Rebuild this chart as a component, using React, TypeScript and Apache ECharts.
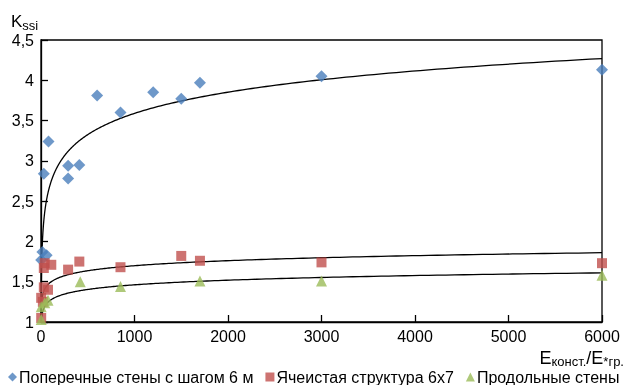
import React, { useEffect, useRef } from "react";
import * as echarts from "echarts";

const blueName = "Поперечные стены с шагом 6 м";
const redName = "Ячеистая структура 6х7";
const greenName = "Продольные стены";

const blueX = [2, 15, 60, 30, 80, 290, 290, 410, 600, 850, 1200, 1500, 1700, 3000, 6000];
const blueY = [1.77, 1.87, 1.83, 2.84, 3.24, 2.78, 2.94, 2.95, 3.81, 3.6, 3.85, 3.77, 3.97, 4.05, 4.13];

const redX = [2, 40, 110, 30, 290, 410, 30, 75, 2, 20, 850, 1500, 1700, 3000, 6000];
const redY = [1.05, 1.73, 1.71, 1.67, 1.65, 1.75, 1.43, 1.4, 1.3, 1.25, 1.68, 1.82, 1.76, 1.74, 1.73];

const greenX = [2, 2, 40, 75, 420, 850, 1700, 3000, 6000];
const greenY = [1.03, 1.19, 1.24, 1.27, 1.5, 1.44, 1.51, 1.51, 1.58];

// logarithmic trend lines: y = a * ln(x) + b
const trendBlue = [0.38, 0.964];
const trendRed = [0.09, 1.077];
const trendGreen = [0.083, 0.888];

const xTicks = [0, 1000, 2000, 3000, 4000, 5000, 6000];
const yTicks = [1, 1.5, 2, 2.5, 3, 3.5, 4, 4.5];

const zip = (xs: number[], ys: number[]) => xs.map((x, i) => [x, ys[i]]);

const trend = (c: number[]) => {
  const pts: number[][] = [];
  for (let i = 0; i <= 400; i++) {
    const x = Math.exp((Math.log(6000) * i) / 400);
    pts.push([x, c[0] * Math.log(x) + c[1]]);
  }
  return pts;
};

const font = "Liberation Sans, Arial, sans-serif";

export default function App() {
  const ref = useRef<HTMLDivElement>(null);
  useEffect(() => {
    if (!ref.current) return;
    const chart = echarts.init(ref.current, undefined, { renderer: "svg" });
    const lineSeries = (c: number[]) => ({
      type: "line",
      data: trend(c),
      showSymbol: false,
      symbol: "none",
      smooth: false,
      clip: true,
      lineStyle: { color: "#000", width: 1.3 },
      silent: true,
      z: 3,
    });
    chart.setOption({
      animation: false,
      textStyle: { fontFamily: font },
      grid: {
        left: 41,
        right: 29,
        top: 40,
        bottom: 63,
        show: true,
        borderColor: "#000",
        borderWidth: 1.3,
        backgroundColor: "transparent",
      },
      xAxis: {
        type: "value",
        min: xTicks[0],
        max: xTicks[xTicks.length - 1],
        interval: 1000,
        axisLine: { show: true, onZero: false, lineStyle: { color: "#000", width: 1.3 } },
        axisTick: { show: true, inside: true, length: 7, lineStyle: { color: "#000", width: 1.3 } },
        axisLabel: { color: "#000", fontSize: 16, fontFamily: font, margin: 6, formatter: (v: number) => String(v) },
        splitLine: { show: false },
        name: "{a|E}{s|конст.}{a|/E}{s|*гр.}",
        nameLocation: "end",
        nameGap: 0,
        nameTextStyle: {
          align: "right",
          verticalAlign: "top",
          padding: [27, -22, 0, 0],
          rich: {
            a: { fontSize: 18, lineHeight: 18, color: "#000", fontFamily: font },
            s: { fontSize: 13, lineHeight: 13, color: "#000", fontFamily: font, padding: [7, 0, 0, 0] },
          },
        },
      },
      yAxis: {
        type: "value",
        min: yTicks[0],
        max: yTicks[yTicks.length - 1],
        interval: 0.5,
        axisLine: { show: true, onZero: false, lineStyle: { color: "#000", width: 1.3 } },
        axisTick: { show: true, inside: true, length: 7, lineStyle: { color: "#000", width: 1.3 } },
        axisLabel: {
          color: "#000",
          fontSize: 16,
          fontFamily: font,
          margin: 7,
          formatter: (v: number) => String(v).replace(".", ","),
        },
        splitLine: { show: false },
        name: "{a|K}{s|ssi}",
        nameLocation: "end",
        nameGap: 4,
        nameTextStyle: {
          align: "left",
          padding: [0, 0, 0, -30],
          rich: {
            a: { fontSize: 17, color: "#000", fontFamily: font },
            s: { fontSize: 13, color: "#000", fontFamily: font, padding: [8, 0, 0, 0] },
          },
        },
      },
      legend: {
        data: [
          { name: blueName, icon: "diamond" },
          { name: redName, icon: "rect" },
          { name: greenName, icon: "triangle" },
        ],
        left: 8,
        top: 369,
        padding: 0,
        itemWidth: 9,
        itemHeight: 9,
        itemGap: 12,
        textStyle: { fontSize: 16, lineHeight: 16, color: "#000", fontFamily: font, padding: [0, 0, 0, -3] },
      },
      series: [
        lineSeries(trendBlue),
        lineSeries(trendRed),
        lineSeries(trendGreen),
        {
          name: blueName,
          type: "scatter",
          data: zip(blueX, blueY),
          symbol: "diamond",
          symbolSize: 12,
          itemStyle: { color: "#4a7ebb" },
          clip: false,
          z: 4,
        },
        {
          name: redName,
          type: "scatter",
          data: zip(redX, redY),
          symbol: "rect",
          symbolSize: 10,
          itemStyle: { color: "#c0504d" },
          clip: false,
          z: 4,
        },
        {
          name: greenName,
          type: "scatter",
          data: zip(greenX, greenY),
          symbol: "triangle",
          symbolSize: 11,
          itemStyle: { color: "#9bbb59" },
          clip: false,
          z: 4,
        },
      ],
    });
    return () => chart.dispose();
  }, []);
  return <div ref={ref} style={{ position: "fixed", left: 0, top: 0, width: 631, height: 385 }} />;
}
